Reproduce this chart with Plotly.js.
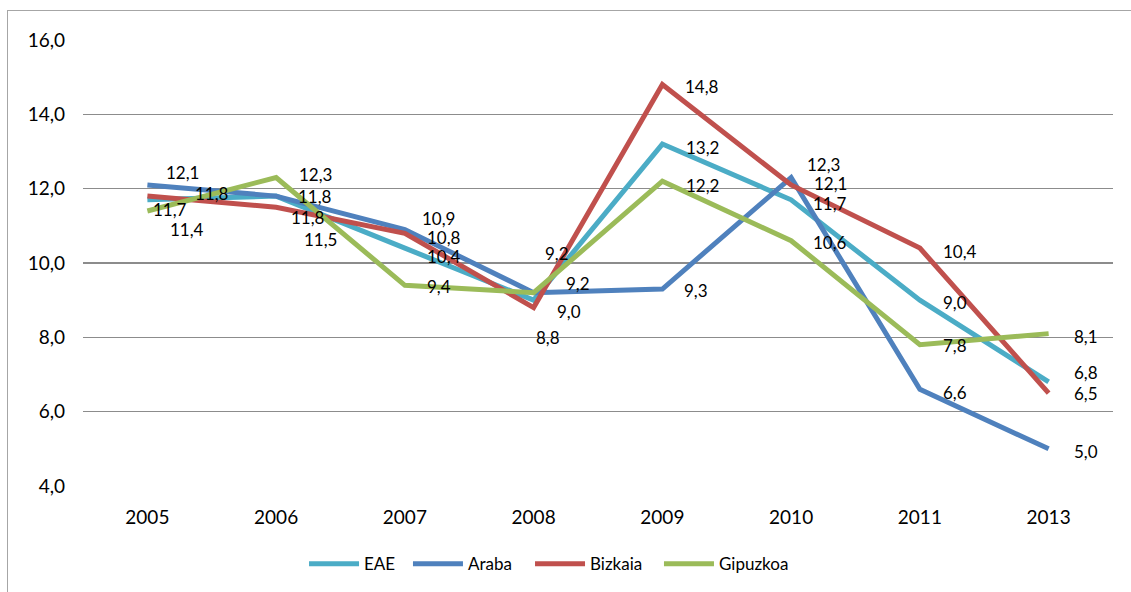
<!DOCTYPE html>
<html>
<head>
<meta charset="utf-8">
<script src="https://cdn.plot.ly/plotly-3.0.1.min.js"></script>
<style>
html,body{margin:0;padding:0;background:#fff;}
#wrap{position:relative;width:1131px;height:592px;}
#chart{position:absolute;left:0;top:0;width:1131px;height:592px;}
#frame{position:absolute;left:7px;top:10px;width:1130px;height:600px;border:1px solid #a6a6a6;box-sizing:border-box;pointer-events:none;}
</style>
</head>
<body>
<div id="wrap"><div id="chart"></div><div id="frame"></div></div>
<script>
// Data
const years = ["2005","2006","2007","2008","2009","2010","2011","2013"];
const EAE      = [11.7, 11.8, 10.4, 9.0, 13.2, 11.7, 9.0, 6.8];
const Araba    = [12.1, 11.8, 10.9, 9.2, 9.3, 12.3, 6.6, 5.0];
const Bizkaia  = [11.8, 11.5, 10.8, 8.8, 14.8, 12.1, 10.4, 6.5];
const Gipuzkoa = [11.4, 12.3, 9.4, 9.2, 12.2, 10.6, 7.8, 8.1];
const yTicks = [4, 6, 8, 10, 12, 14, 16];

// Styles, label offsets (pixels, dx right / dy down) and legend positions
const series = [
  {name:"EAE", y:EAE, color:"#4BACC6", legendX:0.2146,
   dx:[23,32,39,35,40,39,35,37], dy:[10,21,8,11,3,4,2,-9]},
  {name:"Araba", y:Araba, color:"#4F81BD", legendX:0.3155,
   dx:[35,39,34,44,34,32,35,37], dy:[-12,0,-11,-9,1,-13,3,3]},
  {name:"Bizkaia", y:Bizkaia, color:"#C0504D", legendX:0.4340,
   dx:[65,44,39,14,40,39,40,37], dy:[-3,32,4,30,2,-1,3,0]},
  {name:"Gipuzkoa", y:Gipuzkoa, color:"#9BBB59", legendX:0.5592,
   dx:[40,39,34,23,40,39,35,37], dy:[19,-3,1,-39,4,2,1,3]}
];

const FONT = "Lato, 'Open Sans', sans-serif";
const fmt = v => v.toFixed(1).replace(".", ",");

const traces = series.map((s, k) => ({
  type:"scatter", mode:"lines", name:s.name,
  x:years, y:s.y,
  line:{color:s.color, width:5},
  legend: k === 0 ? "legend" : "legend" + (k + 1),
  hoverinfo:"skip"
}));

const annotations = [];
series.forEach(s => {
  s.y.forEach((v, i) => {
    annotations.push({
      xref:"x", yref:"y", x:i, y:v,
      text:fmt(v), showarrow:false,
      xanchor:"center", yanchor:"middle",
      xshift:s.dx[i], yshift:-s.dy[i],
      font:{family:FONT, size:17, color:"#000"}
    });
  });
});

const layout = {
  width:1131, height:592,
  margin:{l:83, r:18, t:40, b:106, autoexpand:false},
  paper_bgcolor:"#fff", plot_bgcolor:"#fff",
  separators:",.",
  showlegend:true,
  xaxis:{type:"category", range:[-0.5, 7.5], showgrid:false, zeroline:false,
         showline:false, ticks:"", ticklabelstandoff:18, automargin:false,
         tickfont:{family:FONT, size:19, color:"#000"}, fixedrange:true},
  yaxis:{range:[4, 16], tickvals:yTicks, ticktext:yTicks.map(fmt),
         showgrid:true, gridcolor:"#8c8c8c", gridwidth:1.5, zeroline:false,
         showline:false, ticks:"", ticklabelstandoff:17, automargin:false,
         tickfont:{family:FONT, size:19, color:"#000"}, fixedrange:true},
  annotations:annotations
};

series.forEach((s, k) => {
  const key = k === 0 ? "legend" : "legend" + (k + 1);
  layout[key] = {
    orientation:"h", x:s.legendX, xanchor:"left",
    yref:"container", y:0.047, yanchor:"middle",
    bgcolor:"rgba(0,0,0,0)",
    font:{family:FONT, size:17, color:"#000"}, itemwidth:50
  };
});

Plotly.newPlot("chart", traces, layout, {displayModeBar:false, staticPlot:true});
</script>
</body>
</html>
